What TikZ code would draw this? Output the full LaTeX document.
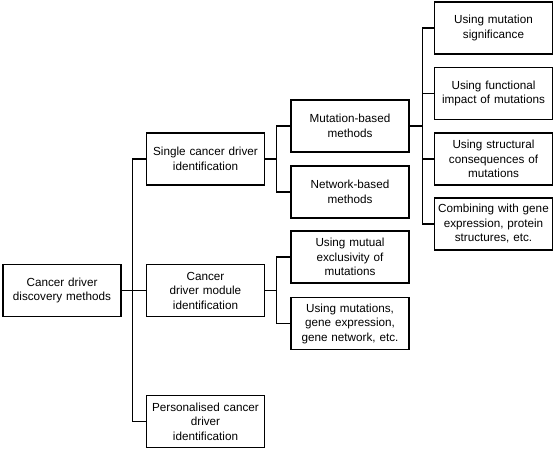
\documentclass[tikz,border=0pt]{standalone}
\usepackage{fontspec}
\setmainfont{Liberation Sans}
\begin{document}
\begin{tikzpicture}[x=1pt,y=-1pt,
  box/.style={draw=black,line width=1.5pt,rectangle,inner sep=0pt,
    minimum width=118pt,minimum height=52pt,text width=114pt,align=center,
    font=\fontsize{11.7}{14.5}\selectfont},
  link/.style={draw=black,line width=1.3pt}]
\useasboundingbox (0,0) rectangle (556,450);
\node[box] (root) at (62,290.5) {Cancer driver\\discovery methods};
\node[box] (single) at (205.5,159) {Single cancer driver\\identification};
\node[box] (module) at (205.5,290.5) {Cancer\\driver module\\identification};
\node[box] (pers) at (205.5,421.5) {Personalised cancer\\driver\\identification};
\node[box] (mut) at (350,126) {Mutation-based\\methods};
\node[box] (net) at (350,192) {Network-based\\methods};
\node[box] (excl) at (350,257) {Using mutual\\exclusivity of\\mutations};
\node[box] (mgene) at (350,323.5) {Using mutations,\\gene expression,\\gene network, etc.};
\node[box] (sig) at (493.5,28) {Using mutation\\significance};
\node[box] (func) at (493.5,93.5) {Using functional\\impact of mutations};
\node[box] (struc) at (493.5,159) {Using structural\\consequences of\\mutations};
\node[box] (comb) at (493.5,224) {Combining with gene\\expression, protein\\structures, etc.};
% level 0 -> 1
\draw[link] (root.east) -- (module.west);
\draw[link] (single.west) -- ++(-13,0) |- (pers.west);
% single -> mut/net
\draw[link] (single.east) -- ++(12,0);
\draw[link] (mut.west) -- ++(-14,0) |- (net.west);
% module -> excl/mgene
\draw[link] (module.east) -- ++(12,0);
\draw[link] (excl.west) -- ++(-14,0) |- (mgene.west);
% mut -> level 3
\draw[link] (mut.east) -- ++(13,0);
\draw[link] (sig.west) -- ++(-11.5,0) |- (comb.west);
\draw[link] (func.west) -- ++(-11.5,0);
\draw[link] (struc.west) -- ++(-11.5,0);
\end{tikzpicture}
\end{document}
